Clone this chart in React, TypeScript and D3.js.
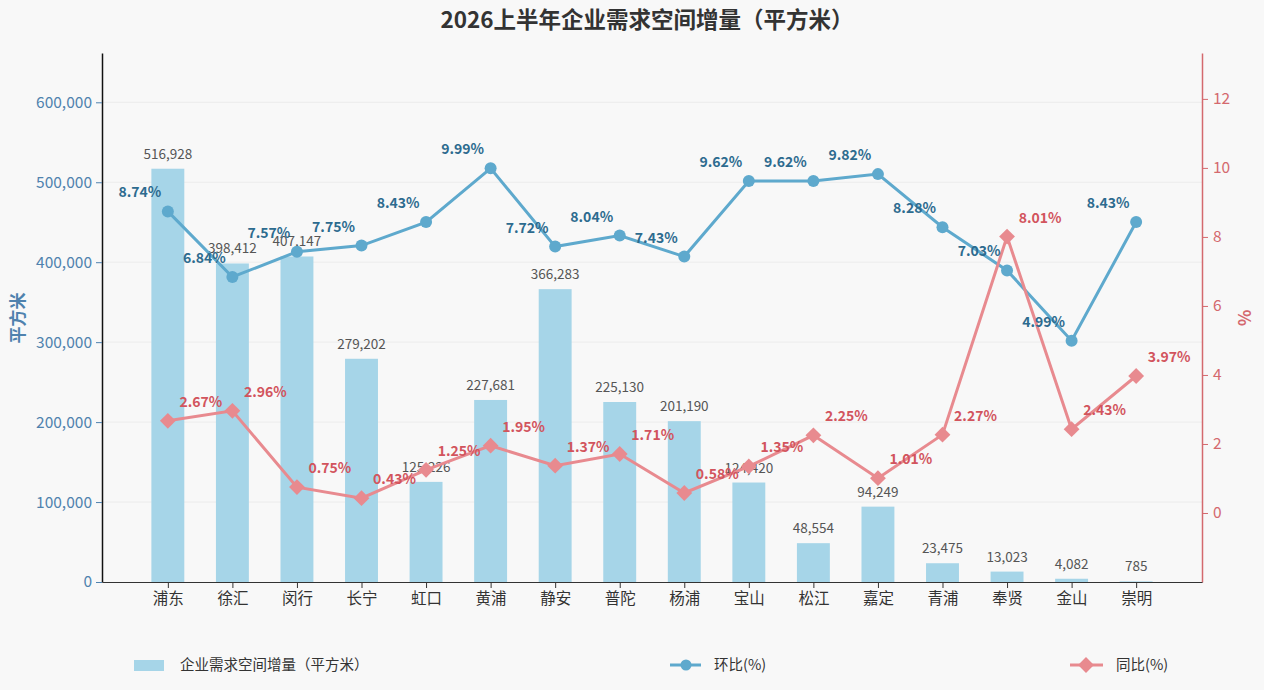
import { useEffect, useRef } from 'react'
import * as d3 from 'd3'

const districts = ['浦东', '徐汇', '闵行', '长宁', '虹口', '黄浦', '静安', '普陀', '杨浦', '宝山', '松江', '嘉定', '青浦', '奉贤', '金山', '崇明']
const demandArea = [516928, 398412, 407147, 279202, 125226, 227681, 366283, 225130, 201190, 124420, 48554, 94249, 23475, 13023, 4082, 785]
const momPct = [8.74, 6.84, 7.57, 7.75, 8.43, 9.99, 7.72, 8.04, 7.43, 9.62, 9.62, 9.82, 8.28, 7.03, 4.99, 8.43]
const yoyPct = [2.67, 2.96, 0.75, 0.43, 1.25, 1.95, 1.37, 1.71, 0.58, 1.35, 2.25, 1.01, 2.27, 8.01, 2.43, 3.97]
const leftTicks = [0, 100000, 200000, 300000, 400000, 500000, 600000]
const rightTicks = [0, 2, 4, 6, 8, 10, 12]

const W = 1264
const H = 690
const FONT = '"Noto Sans CJK SC", "Noto Sans", sans-serif'

const BAR = '#a6d5e8'
const MOM = '#5ea9cd'
const MOM_TXT = '#2d6b8f'
const YOY = '#e88a8f'
const YOY_TXT = '#d2545d'
const LEFT_AX = '#4f82ae'
const RIGHT_AX = '#d4696e'

export default function App() {
  const svgRef = useRef<SVGSVGElement>(null)

  useEffect(() => {
    if (!svgRef.current) return
    document.body.style.margin = '0'
    document.body.style.background = '#f8f8f8'
    const svg = d3.select(svgRef.current)
    svg.selectAll('*').remove()

    const left = 102, right = 1202, top = 53, bottom = 582

    const x = d3.scalePoint<string>().domain(districts).range([left, right]).padding(1.02)
    const yL = d3.scaleLinear().domain([0, 516928 * 1.28]).range([bottom, top])
    const yR = d3.scaleLinear().domain([-2, 13.33]).range([bottom, top])
    const barW = x.step() * 0.51

    svg.append('rect').attr('width', W).attr('height', H).attr('fill', '#f8f8f8')

    // title
    svg.append('text')
      .attr('x', 647).attr('y', 28)
      .attr('text-anchor', 'middle')
      .attr('font-size', 22.5).attr('font-weight', 'bold')
      .attr('fill', '#333')
      .text('2026上半年企业需求空间增量（平方米）')

    // grid
    svg.append('g').selectAll('line')
      .data(leftTicks.slice(1))
      .enter().append('line')
      .attr('x1', left).attr('x2', right)
      .attr('y1', d => yL(d)).attr('y2', d => yL(d))
      .attr('stroke', '#ececec').attr('stroke-width', 1)

    // bars
    const bars = svg.append('g')
    bars.selectAll('rect')
      .data(demandArea)
      .enter().append('rect')
      .attr('x', (d, i) => (x(districts[i]) || 0) - barW / 2)
      .attr('y', d => yL(d))
      .attr('width', barW)
      .attr('height', d => bottom - yL(d))
      .attr('fill', BAR)
    bars.selectAll('text')
      .data(demandArea)
      .enter().append('text')
      .attr('x', (d, i) => x(districts[i]) || 0)
      .attr('y', d => yL(d) - 10)
      .attr('text-anchor', 'middle')
      .attr('font-size', 13.5).attr('fill', '#555')
      .text(d => d3.format(',')(d))

    // left axis
    const gL = svg.append('g').attr('transform', `translate(${left},0)`)
      .call(d3.axisLeft(yL).tickValues(leftTicks).tickFormat(d3.format(',') as any).tickSize(6).tickSizeOuter(0).tickPadding(4))
    gL.select('.domain').attr('stroke', '#111').attr('stroke-width', 1.5)
    gL.selectAll('.tick line').attr('stroke', LEFT_AX)
    gL.selectAll('.tick text').attr('fill', LEFT_AX).attr('font-size', 15.5).attr('font-family', FONT)

    svg.append('text')
      .attr('transform', 'translate(24,318) rotate(-90)')
      .attr('text-anchor', 'middle')
      .attr('font-size', 17).attr('font-weight', 'bold').attr('fill', LEFT_AX)
      .text('平方米')

    // right axis
    const gR = svg.append('g').attr('transform', `translate(${right},0)`)
      .call(d3.axisRight(yR).tickValues(rightTicks).tickSize(6).tickSizeOuter(0).tickPadding(5))
    gR.select('.domain').attr('stroke', RIGHT_AX).attr('stroke-width', 1.5)
    gR.selectAll('.tick line').attr('stroke', RIGHT_AX)
    gR.selectAll('.tick text').attr('fill', RIGHT_AX).attr('font-size', 15.5).attr('font-family', FONT)

    svg.append('text')
      .attr('transform', 'translate(1238,318) rotate(90)')
      .attr('text-anchor', 'middle')
      .attr('font-size', 17).attr('font-weight', 'bold').attr('fill', RIGHT_AX)
      .text('%')

    // bottom axis
    const gB = svg.append('g').attr('transform', `translate(0,${bottom})`)
      .call(d3.axisBottom(x).tickSize(6).tickSizeOuter(0).tickPadding(5))
    gB.select('.domain').attr('stroke', '#333').attr('stroke-width', 1.2)
    gB.selectAll('.tick line').attr('stroke', '#333')
    gB.selectAll('.tick text').attr('fill', '#333').attr('font-size', 15.5).attr('font-family', FONT)

    // 环比 line
    const linePath = d3.line<number>().x((d, i) => x(districts[i]) || 0).y(d => yR(d))
    svg.append('path').datum(momPct)
      .attr('d', linePath).attr('fill', 'none')
      .attr('stroke', MOM).attr('stroke-width', 3)
    svg.append('g').selectAll('circle')
      .data(momPct).enter().append('circle')
      .attr('cx', (d, i) => x(districts[i]) || 0)
      .attr('cy', d => yR(d))
      .attr('r', 6).attr('fill', MOM)

    // 同比 line
    svg.append('path').datum(yoyPct)
      .attr('d', linePath).attr('fill', 'none')
      .attr('stroke', YOY).attr('stroke-width', 3)
    const diamond = d3.symbol().type(d3.symbolSquare).size(125)
    svg.append('g').selectAll('path')
      .data(yoyPct).enter().append('path')
      .attr('transform', (d, i) => `translate(${x(districts[i]) || 0},${yR(d)}) rotate(45)`)
      .attr('d', diamond)
      .attr('fill', YOY)

    // point labels
    svg.append('g').selectAll('text')
      .data(momPct).enter().append('text')
      .attr('x', (d, i) => (x(districts[i]) || 0) - 28)
      .attr('y', d => yR(d) - 14)
      .attr('text-anchor', 'middle')
      .attr('font-size', 14).attr('font-weight', 'bold').attr('fill', MOM_TXT)
      .text(d => d.toFixed(2) + '%')
    svg.append('g').selectAll('text')
      .data(yoyPct).enter().append('text')
      .attr('x', (d, i) => (x(districts[i]) || 0) + 33)
      .attr('y', d => yR(d) - 14)
      .attr('text-anchor', 'middle')
      .attr('font-size', 14).attr('font-weight', 'bold').attr('fill', YOY_TXT)
      .text(d => d.toFixed(2) + '%')

    // legend
    const lg = svg.append('g').attr('font-size', 14.5).attr('fill', '#333')
    lg.append('rect').attr('x', 134).attr('y', 660).attr('width', 30).attr('height', 11).attr('fill', BAR)
    lg.append('text').attr('x', 180).attr('y', 670).text('企业需求空间增量（平方米）')

    lg.append('line').attr('x1', 670).attr('x2', 701).attr('y1', 665).attr('y2', 665).attr('stroke', MOM).attr('stroke-width', 3)
    lg.append('circle').attr('cx', 686).attr('cy', 665).attr('r', 5.5).attr('fill', MOM)
    lg.append('text').attr('x', 714).attr('y', 670).text('环比(%)')

    lg.append('line').attr('x1', 1070).attr('x2', 1103).attr('y1', 665).attr('y2', 665).attr('stroke', YOY).attr('stroke-width', 3)
    lg.append('path').attr('transform', 'translate(1086,665) rotate(45)').attr('d', diamond).attr('fill', YOY)
    lg.append('text').attr('x', 1116).attr('y', 670).text('同比(%)')
  }, [])

  return (
    <svg
      ref={svgRef}
      width={W}
      height={H}
      style={{ display: 'block', position: 'absolute', left: 0, top: 0, fontFamily: FONT }}
    />
  )
}
